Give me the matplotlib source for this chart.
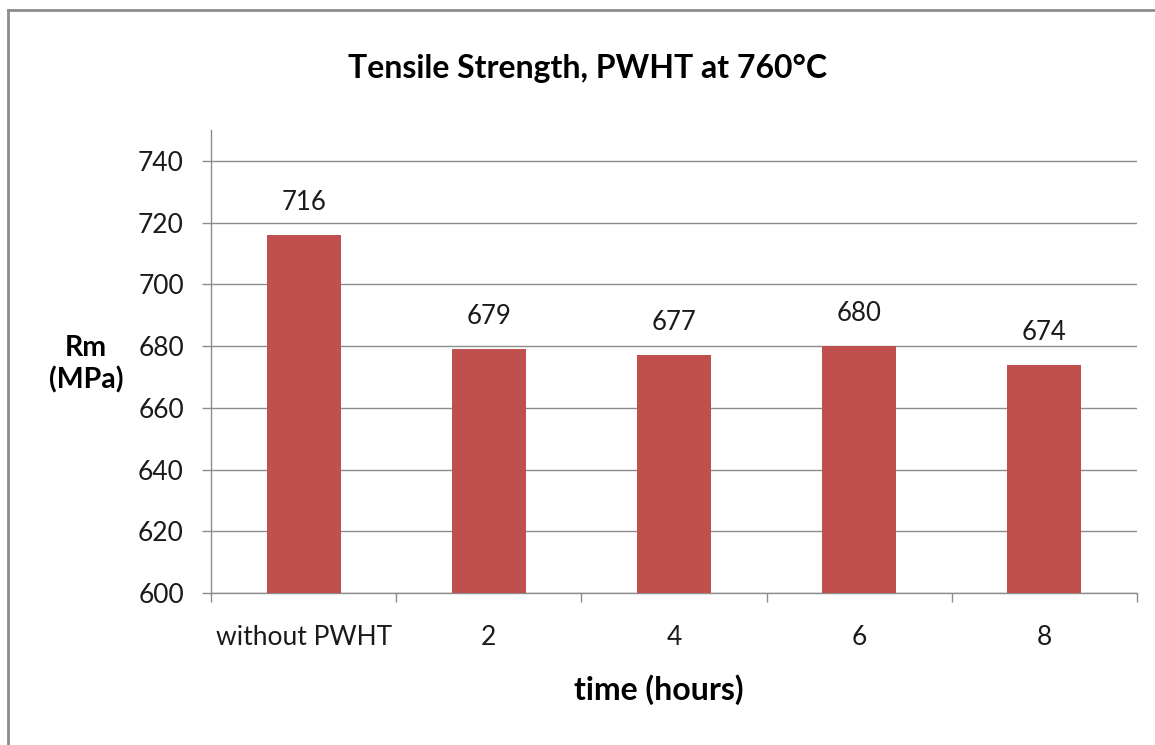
import matplotlib
matplotlib.use('Agg')
import matplotlib.pyplot as plt
from matplotlib.lines import Line2D

# Data
categories = ['without PWHT', '2', '4', '6', '8']
rm_mpa = [716, 679, 677, 680, 674]
y_ticks = [600, 620, 640, 660, 680, 700, 720, 740]

plt.rcParams['font.family'] = ['Lato', 'DejaVu Sans']

fig = plt.figure(figsize=(11.55, 7.45), dpi=100, facecolor='w')
ax = fig.add_axes([211/1155, 1 - 593/745, (1137-211)/1155, (593-130)/745])

bar_color = '#C0504D'
grid_color = '#8C8C8C'

x = list(range(len(categories)))
ax.bar(x, [v - 600 for v in rm_mpa], bottom=600, width=0.4, color=bar_color, zorder=3)

for xi, v in zip(x, rm_mpa):
    ax.text(xi, v + 6.5, str(v), ha='center', va='bottom', fontsize=18.5, color='#1a1a1a')

ax.set_xlim(-0.5, len(categories) - 0.5)
ax.set_ylim(600, 750)
ax.set_yticks(y_ticks)
ax.yaxis.grid(True, color=grid_color, linewidth=1.0, zorder=0)
ax.set_axisbelow(True)

ax.set_xticks(x)
ax.set_xticklabels(categories)
ax.set_xticks([i - 0.5 for i in range(len(categories) + 1)], minor=True)
ax.tick_params(axis='x', which='major', length=0, pad=23, labelsize=19, labelcolor='#1a1a1a')
ax.tick_params(axis='x', which='minor', length=6.5, width=1.0, color=grid_color, direction='out')
ax.tick_params(axis='y', length=6.5, width=1.0, color=grid_color, direction='out', pad=13,
               labelsize=19, labelcolor='#1a1a1a')

for side in ['top', 'right']:
    ax.spines[side].set_visible(False)
for side in ['left', 'bottom']:
    ax.spines[side].set_color(grid_color)
    ax.spines[side].set_linewidth(1.0)

fig.text(588/1155, 1 - 68/745, 'Tensile Strength, PWHT at 760°C', ha='center', va='center',
         fontsize=23, fontweight='bold')
fig.text(86/1155, 1 - 364/745, 'Rm\n(MPa)', ha='center', va='center', fontsize=20.5,
         fontweight='bold', linespacing=1.25)
fig.text(659/1155, 1 - 690/745, 'time (hours)', ha='center', va='center', fontsize=23,
         fontweight='bold')

# chart border (left and top edges visible)
fig.add_artist(Line2D([8/1155, 8/1155], [0, 1 - 10/745], color='#8C8C8C', linewidth=2.0))
fig.add_artist(Line2D([8/1155, 1], [1 - 10/745, 1 - 10/745], color='#8C8C8C', linewidth=2.0))

plt.savefig('out.png', dpi=100, facecolor='w')
plt.close()
